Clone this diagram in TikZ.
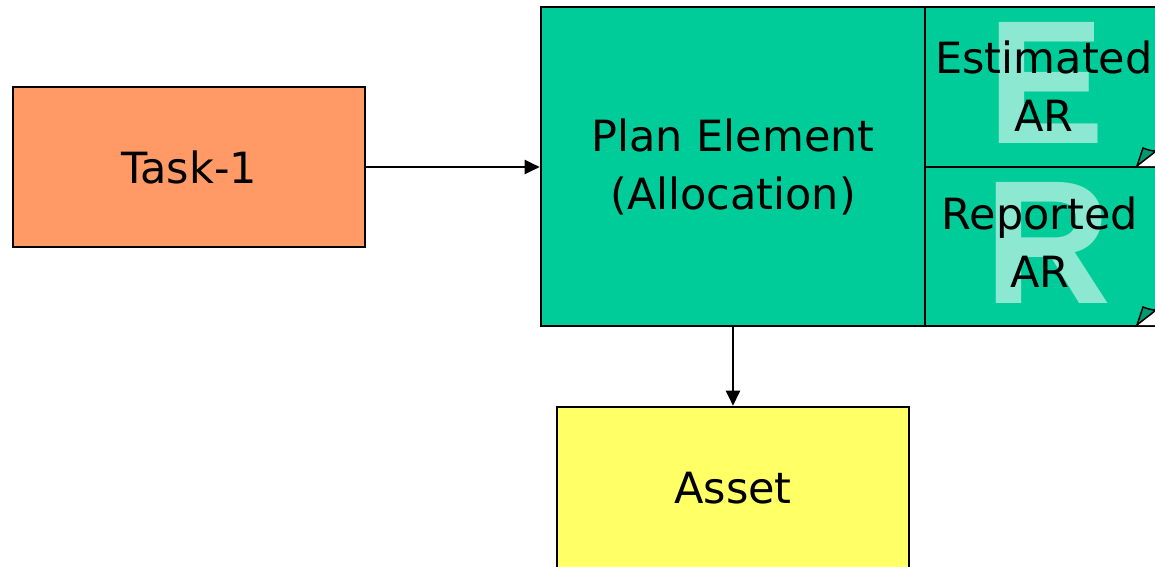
\documentclass[tikz,border=0pt]{standalone}
\usepackage{fontspec}
\setmainfont{DejaVu Sans}
\newfontfamily\markfont{Liberation Sans}
\usetikzlibrary{arrows.meta}

\definecolor{taskorange}{HTML}{FF9966}
\definecolor{plangreen}{HTML}{00CC99}
\definecolor{assetyellow}{HTML}{FFFF66}
\colorlet{markgreen}{plangreen!45!white}
\colorlet{flapgreen}{plangreen!75!black}

\tikzset{
  box/.style={draw=black, line width=2.6pt, rectangle, inner sep=0pt,
    font=\fontsize{43}{58}\selectfont, align=center},
  bigletter/.style={font=\markfont\bfseries\fontsize{176}{176}\selectfont,
    text=markgreen, inner sep=0pt},
  link/.style={draw=black, line width=2.2pt, -{Triangle[length=15pt,width=14pt]}},
}

\begin{document}
\begin{tikzpicture}[x=1pt, y=-1pt]
  \useasboundingbox (0,0) rectangle (1155,566);
  \begin{scope}
    \clip (0,0) rectangle (1155,566);

    % task box
    \node[box, fill=taskorange, minimum width=352pt, minimum height=160pt]
      (task) at (189,167) {Task-1};

    % plan element with its two attached records
    \node[box, fill=plangreen, minimum width=384pt, minimum height=319pt]
      (plan) at (733,166.5) {Plan Element\\(Allocation)};
    \node[box, fill=plangreen, minimum width=232pt, minimum height=160pt]
      (estbox) at (1041,87) {};
    \node[box, fill=plangreen, minimum width=232pt, minimum height=159pt]
      (repbox) at (1041,246.5) {};

    \node[bigletter] (markE) at (1046,83) {E};
    \node[bigletter] (markR) at (1048,243) {R};

    \node[box, draw=none] (est) at (1044,86) {Estimated\\AR};
    \node[box, draw=none] (rep) at (1040,242) {Reported\\AR};

    % curled corners of the two records
    \foreach \y in {167,326} {
      \fill[white] (1137,\y-1) -- (1157,\y-1) -- (1157,\y-17) -- cycle;
      \draw[line width=1.5pt, fill=flapgreen]
        (1137,\y-1) -- (1143,\y-19) .. controls (1148,\y-17) and (1152,\y-16) .. (1156,\y-16)
        .. controls (1150,\y-11) and (1143,\y-6) .. cycle;
    }

    % asset box
    \node[box, fill=assetyellow, minimum width=352pt, minimum height=165pt]
      (asset) at (733,489.5) {\raisebox{3pt}{Asset}};
  \end{scope}

  % connectors
  \draw[link] (task.east) -- (task.east -| plan.west);
  \draw[link] (plan.south) -- (asset.north);
\end{tikzpicture}
\end{document}
